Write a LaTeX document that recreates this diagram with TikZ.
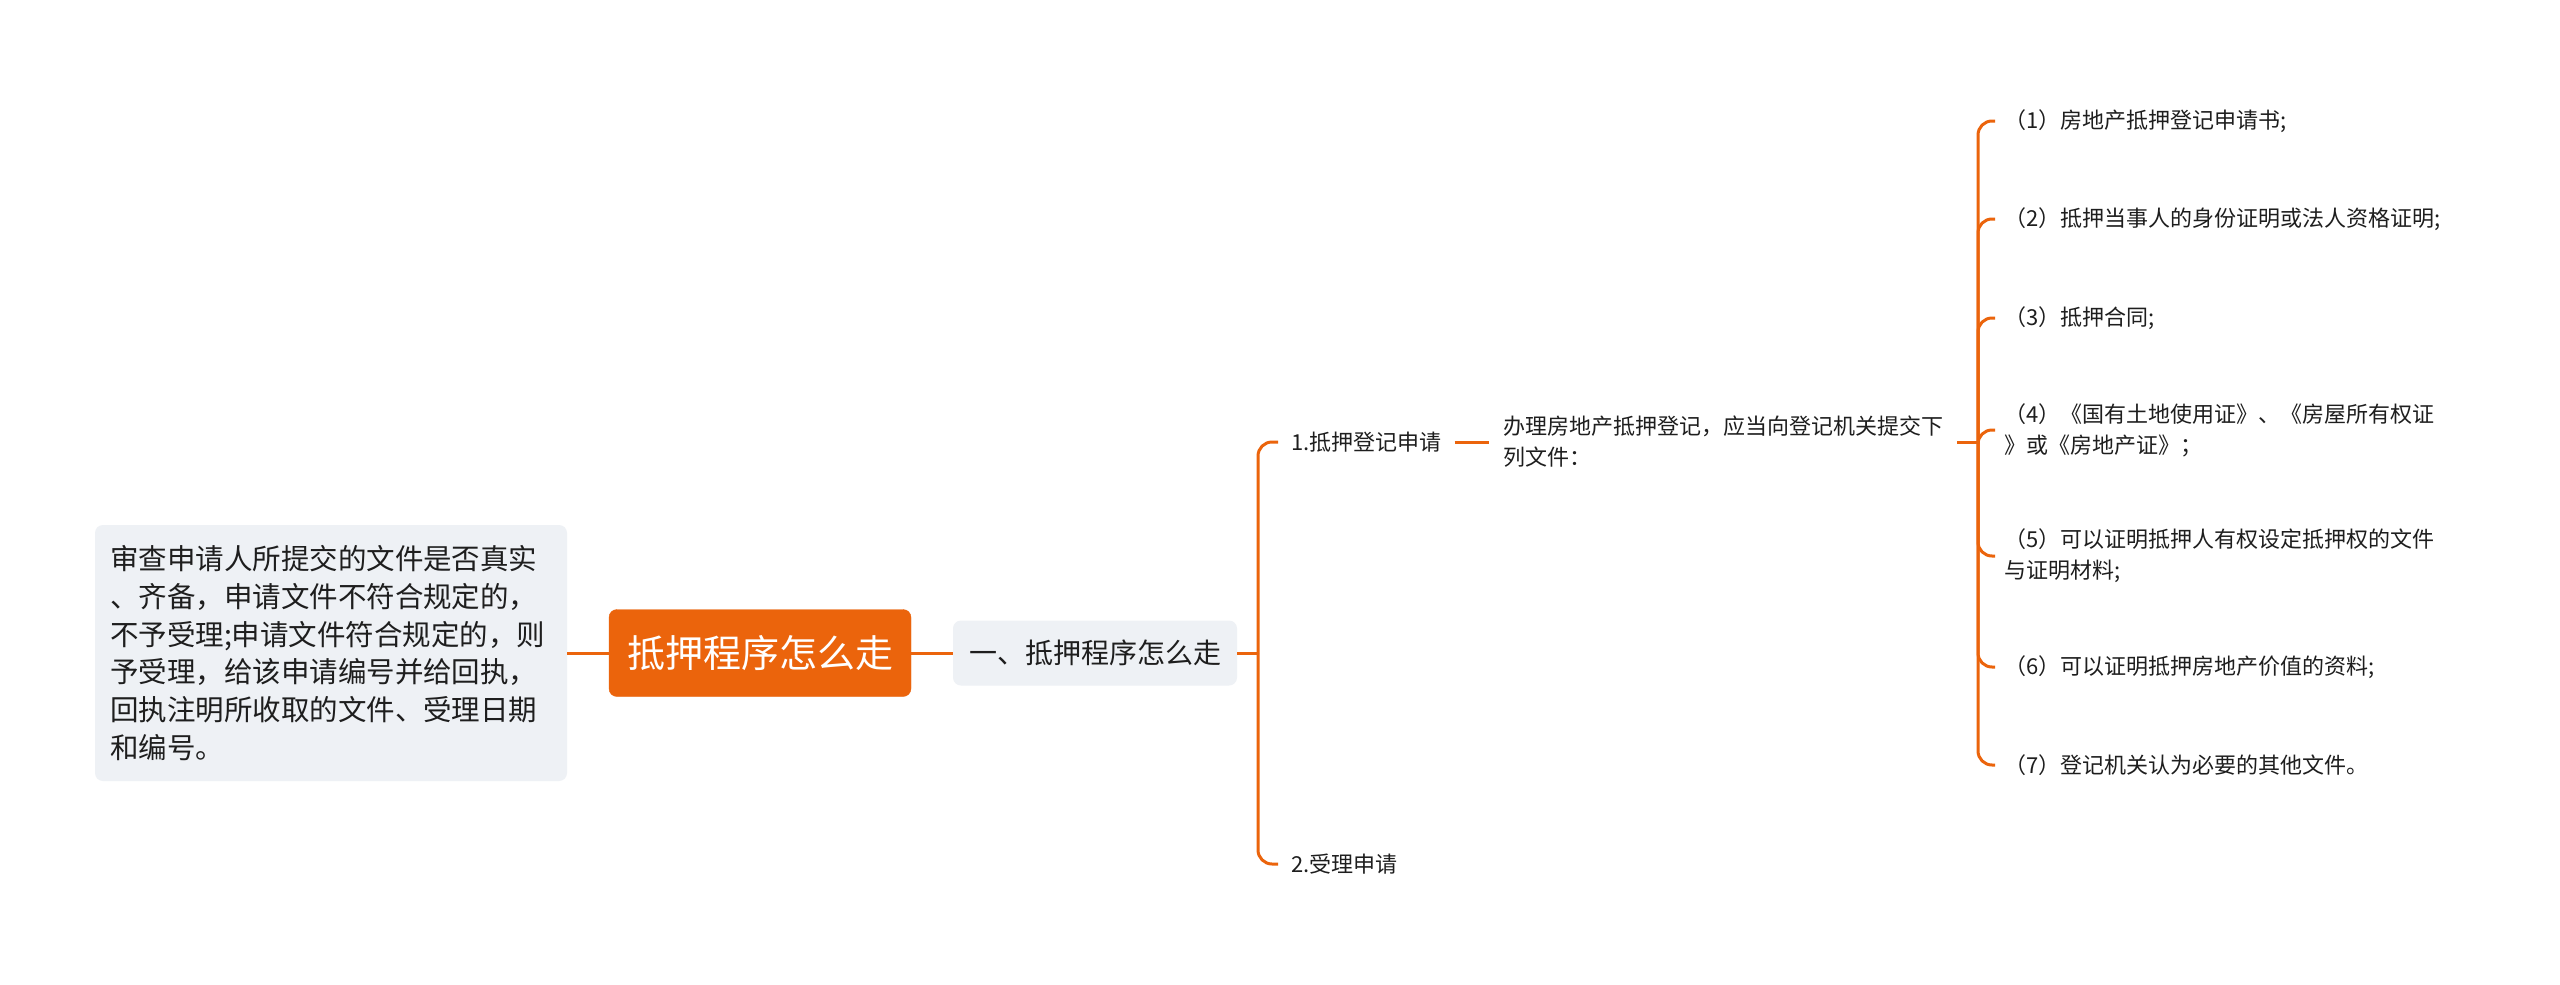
\documentclass[tikz,border=0pt]{standalone}
\usepackage{fontspec}
\newfontfamily\cjk{Noto Sans CJK SC}
\definecolor{org}{RGB}{235,100,12}
\definecolor{gbox}{RGB}{238,241,245}
\definecolor{txt}{RGB}{30,30,30}
\tikzset{
  conn/.style={draw=org, line width=3pt},
  branch/.style={conn, rounded corners=14pt},
  small/.style={font=\cjk\fontsize{22}{31}\selectfont, text=txt, inner xsep=13pt, inner ysep=2pt, anchor=west, align=left},
  item/.style={small, inner xsep=9pt},
  greybox/.style={fill=gbox, rounded corners=8pt, text=txt},
}
\begin{document}
\begin{tikzpicture}[x=1pt,y=-1pt]
\useasboundingbox[fill=white] (0,0) rectangle (2560,985);
% left description box
\node[greybox, minimum width=472pt, minimum height=256pt, text width=442pt, inner xsep=15pt, align=left,
      font=\cjk\fontsize{28.5}{37.7}\selectfont] (left) at (331,653)
 {审查申请人所提交的文件是否真实\\、齐备，申请文件不符合规定的，\\不予受理;申请文件符合规定的，则\\予受理，给该申请编号并给回执，\\回执注明所收取的文件、受理日期\\和编号。};
% root
\node[fill=org, draw=org, rounded corners=8pt, minimum width=302pt, minimum height=87pt, inner sep=0pt,
      font=\cjk\fontsize{38}{44}\selectfont, text=white] (root) at (760,653) {抵押程序怎么走};
% level 1
\node[greybox, minimum width=284pt, minimum height=65pt, inner sep=0pt,
      font=\cjk\fontsize{28}{34}\selectfont] (yi) at (1095,653) {一、抵押程序怎么走};
% level 2
\node[small] (n1) at (1278,442) {1.抵押登记申请};
\node[small] (n2) at (1278,864) {2.受理申请};
% level 3
\node[small, inner xsep=14pt] (ban) at (1489,442) {办理房地产抵押登记，应当向登记机关提交下\\列文件：};
% level 4 items
\node[item] (i1) at (1995,121) {（1）房地产抵押登记申请书;};
\node[item] (i2) at (1995,219) {（2）抵押当事人的身份证明或法人资格证明;};
\node[item] (i3) at (1995,318) {（3）抵押合同;};
\node[item] (i4) at (1995,430) {（4）《国有土地使用证》、《房屋所有权证\\》或《房地产证》；};
\node[item] (i5) at (1995,556) {（5）可以证明抵押人有权设定抵押权的文件\\与证明材料;};
\node[item] (i6) at (1995,667) {（6）可以证明抵押房地产价值的资料;};
\node[item] (i7) at (1995,765) {（7）登记机关认为必要的其他文件。};
% junctions
\coordinate (j1) at (1258,653);
\coordinate (j2) at (1978,442);
% connectors
\draw[conn] (left.east) -- (root.west);
\draw[conn] (root.east) -- (yi.west);
\draw[conn] (yi.east) -- (j1);
\draw[branch] (j1) |- (n1.west);
\draw[branch] (j1) |- (n2.west);
\draw[conn] (n1.east) -- (ban.west);
\draw[conn] (ban.east) -- (j2);
\foreach \k in {1,...,7} { \draw[branch] (j2) |- (i\k.west); }
\end{tikzpicture}
\end{document}
